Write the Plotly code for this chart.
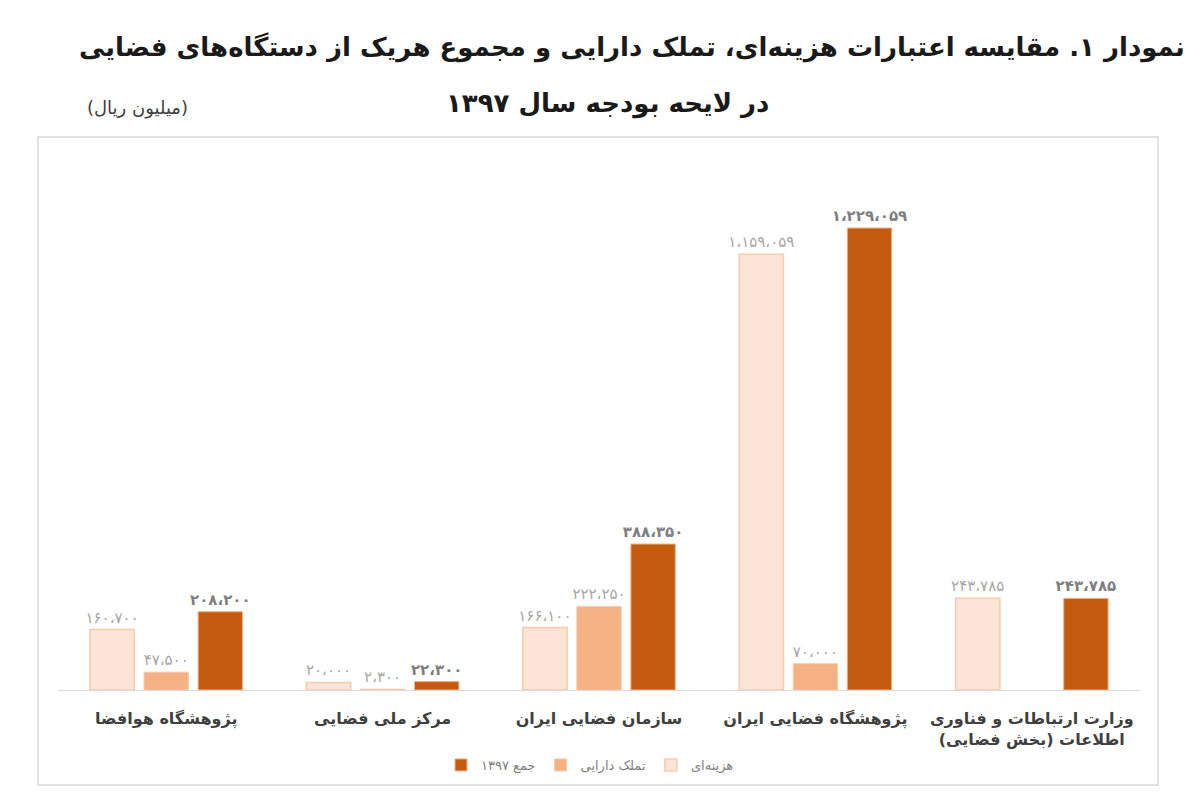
import plotly.graph_objects as go

# categories left to right as drawn in the picture
categories = [
    "پژوهشگاه هوافضا",
    "مرکز ملی فضایی",
    "سازمان فضایی ایران",
    "پژوهشگاه فضایی ایران",
    "وزارت ارتباطات و فناوری<br>اطلاعات (بخش فضایی)",
]

# million rials
hazineh = [160700, 20000, 166100, 1159059, 243785]
tamalok = [47500, 2300, 222250, 70000, None]
jam = [208200, 22300, 388350, 1229059, 243785]

series_names = ["هزینه‌ای", "تملک دارایی", "جمع ۱۳۹۷"]

title_line1 = "نمودار ۱. مقایسه اعتبارات هزینه‌ای، تملک دارایی و مجموع هریک از دستگاه‌های فضایی"
title_line2 = "در لایحه بودجه سال ۱۳۹۷"
unit_text = "(میلیون ریال)"

FA_DIGITS = str.maketrans("0123456789,", "۰۱۲۳۴۵۶۷۸۹،")


def fa_num(v):
    if v is None:
        return ""
    return f"{v:,}".translate(FA_DIGITS)


FONT = "DejaVu Sans"

# the page body adds an 8px offset, margins are set so the plot lands where
# the reference has it
def px(sx):
    return (sx - 58) / 1082


def py(sy):
    return (690 - sy) / 540


fig = go.Figure()

fig.add_trace(go.Bar(
    name=series_names[0], x=categories, y=hazineh,
    text=[fa_num(v) for v in hazineh], textposition="outside",
    textfont=dict(size=15, color="#A6A6A6", family=FONT),
    marker=dict(color="#FCE4D6", line=dict(color="#F8CBAD", width=1.5)),
    cliponaxis=False, constraintext="none",
))
fig.add_trace(go.Bar(
    name=series_names[1], x=categories, y=tamalok,
    text=[fa_num(v) for v in tamalok], textposition="outside",
    textfont=dict(size=15, color="#A6A6A6", family=FONT),
    marker=dict(color="#F4B183", line=dict(color="#F8CBAD", width=1)),
    cliponaxis=False, constraintext="none",
))
fig.add_trace(go.Bar(
    name=series_names[2], x=categories, y=jam,
    text=[fa_num(v) for v in jam], textposition="outside",
    textfont=dict(size=15, color="#7F7F7F", family=FONT, weight="bold"),
    marker=dict(color="#C55A11", line=dict(color="#F4B183", width=1)),
    cliponaxis=False, constraintext="none",
))

fig.update_layout(
    width=1200, height=800,
    paper_bgcolor="white", plot_bgcolor="white",
    margin=dict(l=50, r=68, t=142, b=118),
    barmode="group", bargap=0.25, bargroupgap=0.18,
    font=dict(family=FONT, color="#404040"),
    xaxis=dict(
        showline=True, linecolor="#D9D9D9", linewidth=1,
        ticks="", showgrid=False, ticklabelstandoff=14,
        tickfont=dict(size=16, color="#404040", family=FONT, weight="bold"),
    ),
    yaxis=dict(
        range=[0, 1436600], visible=False, showgrid=False,
    ),
    legend=dict(
        orientation="h", traceorder="reversed",
        x=px(590), xanchor="center", y=py(765), yanchor="middle",
        font=dict(size=13, color="#7F7F7F", family=FONT),
        itemwidth=30,
    ),
    showlegend=True,
)

# title lines
fig.add_annotation(
    text=title_line1, xref="paper", yref="paper",
    x=px(632), y=py(47),
    xanchor="center", yanchor="middle", showarrow=False,
    font=dict(size=26, color="#1a1a1a", family=FONT, weight="bold"),
)
fig.add_annotation(
    text=title_line2, xref="paper", yref="paper",
    x=px(607), y=py(103),
    xanchor="center", yanchor="middle", showarrow=False,
    font=dict(size=26, color="#1a1a1a", family=FONT, weight="bold"),
)
fig.add_annotation(
    text=unit_text, xref="paper", yref="paper",
    x=px(137), y=py(108),
    xanchor="center", yanchor="middle", showarrow=False,
    font=dict(size=18, color="#404040", family=FONT),
)

# frame around the chart area
fig.add_shape(
    type="rect", xref="paper", yref="paper",
    x0=px(38), x1=px(1158), y0=py(785), y1=py(137),
    line=dict(color="#D9D9D9", width=1.5), fillcolor="rgba(0,0,0,0)",
    layer="below",
)

fig.write_html("out.html")
